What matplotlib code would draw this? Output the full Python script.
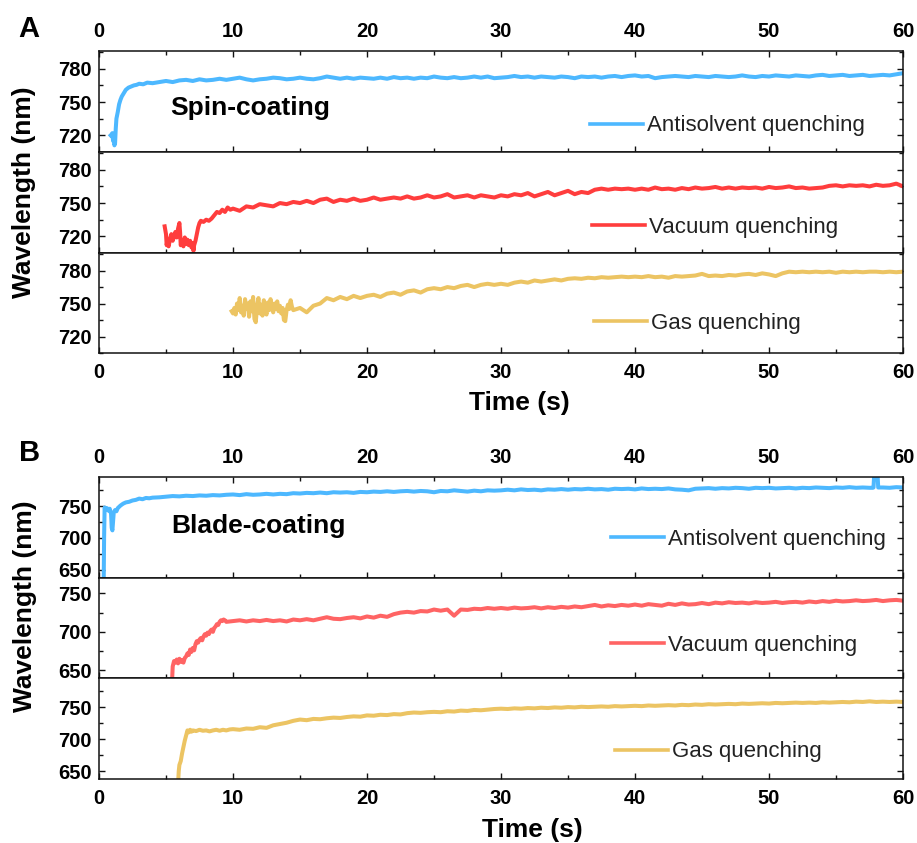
import numpy as np
import matplotlib
matplotlib.use("Agg")
import matplotlib.pyplot as plt
from matplotlib.ticker import MultipleLocator

plt.rcParams["font.family"] = ["Liberation Sans", "DejaVu Sans"]

# ---------------- Spin-coating (panel A) ----------------
spin_anti_t_early = [0.87, 0.95, 1.0, 1.05, 1.1, 1.15, 1.2, 1.25, 1.3, 1.4, 1.5, 1.6, 1.7,
                     1.8, 2.0, 2.2, 2.4, 2.6, 2.8, 3.0, 3.3, 3.6, 4.0, 4.5]
spin_anti_v_early = [720, 719, 722, 715, 718, 711, 713, 726, 735, 741, 748, 752, 755,
                     757, 761, 763, 764, 765, 765.5, 766.5, 766, 767.5, 767, 768]
spin_anti_v_tail = [  # 5.0 s ... 60.0 s, 0.5 s step
    769, 768, 769.5, 770, 769, 770.5, 769.5, 770, 771, 770, 771, 772, 770.5, 769.5, 770.5,
    771, 772, 771.5, 770.5, 771, 772, 771, 770.5, 771.5, 773, 772, 771, 772, 771, 772,
    771.5, 771, 772, 771, 772.5, 771.5, 772, 771, 772, 771.5, 773, 772, 771.5, 772.5, 771.5,
    772, 773, 772, 773, 771.5, 772, 772.5, 773.5, 772.5, 773, 772, 773, 772.5, 772, 773,
    772.5, 771.5, 773, 772.5, 773, 772, 773, 773.5, 772.5, 773.5, 774, 773, 773.5, 771.5, 772.5,
    773, 773.5, 773, 772.5, 773.5, 773, 772.5, 773.5, 773, 772.5, 773, 774, 773, 772.5, 773.5,
    773, 774, 773.5, 773, 774, 773.5, 773, 774, 774.5, 773.5, 774, 774.5, 773.5, 774, 774.5,
    773.5, 774, 774.5, 774, 775, 776]

spin_vac_t_early = [4.9, 5.0, 5.05, 5.1, 5.2, 5.3, 5.4, 5.5, 5.6, 5.7, 5.8, 5.9, 6.0, 6.05,
                    6.1, 6.2, 6.3, 6.4, 6.5, 6.6, 6.7, 6.8, 6.9, 7.0, 7.05, 7.1, 7.2, 7.3,
                    7.4, 7.5, 7.6, 7.8, 8.0, 8.2, 8.4, 8.6, 8.8, 9.0, 9.2, 9.4, 9.6, 9.8]
spin_vac_v_early = [729, 722, 712, 716, 711, 718, 722, 716, 720, 724, 719, 727, 732, 724,
                    712, 716, 711, 719, 713, 717, 712, 716, 710, 714, 707, 712, 716, 722,
                    728, 732, 734, 733, 735, 734, 736, 739, 742, 741, 744, 742, 746, 744]
spin_vac_v_tail = [  # 10.0 s ... 60.0 s, 0.5 s step
    745, 743, 747, 746, 749, 748, 747, 750, 749, 751, 750, 752, 750, 753, 754, 751, 753, 752,
    754, 752, 753, 755, 753, 754, 755, 754, 756, 754, 755, 757, 755, 756, 758, 755, 756, 757,
    755, 757, 756, 755, 757, 756, 758, 757, 759, 756, 758, 760, 757, 759, 761, 758, 760, 759,
    762, 763, 762, 763, 762.5, 763, 762, 763, 762, 764, 762.5, 763, 762, 763.5, 762.5, 764,
    763, 763.5, 764.5, 763, 764, 763, 764, 763.5, 764, 763, 764.5, 763.5, 764, 765, 763.5,
    764, 763, 763.5, 764, 765.5, 766, 765, 766, 765.5, 766, 765, 766.5, 765.5, 766, 767.5, 765]

spin_gas_v_early = [  # 9.9 s ... 14.5 s, 0.1 s step
    743, 741, 746, 740, 750, 744, 755, 742, 748, 739, 754, 745, 750, 738, 752, 743, 756,
    736, 733, 748, 755, 741, 749, 739, 753, 745, 740, 751, 744, 754, 747, 742, 750, 745,
    752, 743, 748, 741, 746, 735, 734, 744, 749, 745, 753, 747, 744]
spin_gas_v_tail = [  # 15.0 s ... 60.0 s, 0.5 s step
    746, 742, 748, 750, 755, 753, 756, 754, 757, 755, 757, 758, 756, 759, 760, 758, 761, 762,
    760, 763, 764, 763, 765, 764, 766, 767, 765, 767, 768, 767, 768, 767, 769, 770, 769, 771,
    770, 771, 772, 771, 772.5, 773, 772.5, 773.5, 773, 774, 773.5, 774, 774.5, 774, 774.5,
    774, 775, 774, 774.5, 773.5, 775, 774.5, 775, 775.5, 777, 775, 775.5, 775, 776, 775.5,
    776.5, 777, 776, 777.5, 776.5, 775, 777.5, 779, 778.5, 779, 778.5, 779, 778.5, 779, 778,
    779, 778.5, 779, 778.5, 779, 779, 778.5, 779, 778.5, 779]

# ---------------- Blade-coating (panel B) ----------------
blade_anti_t_early = [0.35, 0.38, 0.42, 0.5, 0.6, 0.7, 0.8, 0.9, 0.95, 1.0, 1.05, 1.1, 1.2,
                      1.3, 1.4, 1.6, 1.8, 2.0, 2.25, 2.5, 2.75, 3.0, 3.25, 3.5, 3.75, 4.0, 4.5]
blade_anti_v_early = [630, 700, 748, 744, 747, 743, 746, 738, 716, 712, 725, 740, 744,
                      742, 747, 751, 754, 756, 757, 759, 760, 762, 761, 763, 762.5, 763.5, 764]
blade_anti_v_tail = [  # 5.0 s ... 57.5 s, 0.5 s step
    765, 766, 765.5, 766.5, 766, 767, 766.5, 767.5, 767, 768, 768.5, 767.5, 769, 768, 768.5,
    769.5, 768.5, 769.5, 769, 770.5, 770, 771, 770.5, 771.5, 770.5, 772, 771.5, 772, 771,
    772.5, 772, 773, 772.5, 773.5, 772.5, 773.5, 774, 773, 774, 773.5, 772, 774, 773.5, 775,
    774, 773, 774.5, 773.5, 775, 774.5, 775, 776, 775, 776.5, 775.5, 776, 775, 776.5, 776,
    777, 776, 777, 776.5, 777.5, 776.5, 777, 776, 777.5, 777, 777.5, 776.5, 778, 777, 777.5,
    777, 778, 776.5, 776, 775, 777.5, 778, 778.5, 777.5, 778.5, 778, 779, 778.5, 777.5,
    779, 778.5, 779, 778, 778.5, 779, 778, 779, 778.5, 779.5, 779, 778.5, 779.5, 779, 780,
    779, 779.5, 779]
blade_anti_t_end = [57.75, 57.8, 57.85, 58.1, 58.15, 58.5, 59.0, 59.5, 60.0]
blade_anti_v_end = [779, 779.5, 800, 800, 779.5, 779.5, 779, 780, 779.5]

blade_vac_t_early = [5.45, 5.5, 5.6, 5.7, 5.8, 5.9, 6.0, 6.1, 6.2, 6.3, 6.4, 6.5, 6.6, 6.7,
                     6.8, 6.9, 7.0, 7.1, 7.2, 7.3, 7.4, 7.5, 7.6, 7.7, 7.8, 7.9, 8.0, 8.1,
                     8.2, 8.3, 8.4, 8.5, 8.6, 8.7, 8.8, 8.9, 9.0, 9.1, 9.2, 9.3, 9.4, 9.5]
blade_vac_v_early = [635, 655, 662, 660, 664, 659, 665, 661, 663, 660, 666, 668, 672, 670,
                     677, 674, 679, 676, 684, 688, 686, 690, 692, 689, 694, 697, 695, 699,
                     697, 701, 703, 700, 705, 707, 710, 709, 713, 715, 714, 716, 715, 713]
blade_vac_v_tail = [  # 10.0 s ... 60.0 s, 0.5 s step
    714, 715, 713.5, 715, 714, 715.5, 714, 715, 713.5, 716, 715, 716.5, 715, 717, 719, 717,
    716.5, 718, 719, 717.5, 720, 718.5, 721, 719.5, 723, 725, 726, 725, 727, 726.5, 729,
    727.5, 729, 721, 729, 728.5, 730, 729.5, 731, 730, 731, 730, 731.5, 730.5, 731, 732,
    730.5, 732, 731, 732.5, 731.5, 733, 732, 733.5, 735, 733, 734.5, 733.5, 735, 734, 735.5,
    734, 736, 735, 734, 736.5, 735, 737, 735.5, 736, 737.5, 736, 738, 737, 738.5, 737.5, 738,
    737, 738.5, 737.5, 738, 739, 737.5, 738.5, 739, 738, 739.5, 738.5, 740, 739, 740.5,
    739.5, 740, 741, 740, 740.5, 741.5, 740, 741, 741.5, 740.5]

blade_gas_t_early = [5.9, 5.95, 6.0, 6.1, 6.2, 6.3, 6.4, 6.5, 6.6, 6.7, 6.8, 6.9, 7.0,
                     7.25, 7.5, 7.75, 8.0, 8.25, 8.5, 8.75, 9.0, 9.25, 9.5, 9.75]
blade_gas_v_early = [630, 650, 660, 666, 678, 688, 698, 706, 714, 711, 715, 712, 714,
                     713, 715, 713.5, 714, 712.5, 714, 715, 713.5, 715, 714, 715.5]
blade_gas_v_tail = [  # 10.0 s ... 60.0 s, 0.5 s step
    716, 715, 717, 716.5, 719, 718, 722, 724, 726, 729, 731, 730, 732, 731.5, 733, 734,
    733.5, 735, 736, 735.5, 737.5, 737, 738.5, 738, 739.5, 739, 741, 742, 741.5, 742.5, 743,
    742.5, 744, 743.5, 745, 744.5, 746, 745.5, 746.5, 747.5, 748, 747.5, 748.5, 748, 749,
    748.5, 749.5, 749, 750, 749.5, 750.5, 750, 751, 750.5, 751, 751.5, 751, 752, 751.5, 752,
    752.5, 752, 753, 752.5, 753, 753.5, 753, 754, 753.5, 754.5, 754, 755, 754.5, 755, 755.5,
    755, 756, 755.5, 756, 756.5, 756, 757, 756.5, 757, 757.5, 757, 757.5, 757, 758, 757.5,
    758, 758.5, 758, 759, 758.5, 759.5, 758.5, 759, 758.5, 759, 758.5]

labels = ["Antisolvent quenching", "Vacuum quenching", "Gas quenching"]
BLUE = "#4db8ff"
RED_A = "#ff3d3d"
RED_B = "#ff6464"
GOLD = "#ecc463"


def join(t_parts, v_parts):
    return np.concatenate(t_parts), np.concatenate(v_parts)


def tail(t0, t1, vals):
    return np.linspace(t0, t1, len(vals))


spin_series = [
    join([spin_anti_t_early, tail(5.0, 60.0, spin_anti_v_tail)],
         [spin_anti_v_early, spin_anti_v_tail]),
    join([spin_vac_t_early, tail(10.0, 60.0, spin_vac_v_tail)],
         [spin_vac_v_early, spin_vac_v_tail]),
    join([tail(9.9, 14.5, spin_gas_v_early), tail(15.0, 60.0, spin_gas_v_tail)],
         [spin_gas_v_early, spin_gas_v_tail]),
]
blade_series = [
    join([blade_anti_t_early, tail(5.0, 57.5, blade_anti_v_tail), blade_anti_t_end],
         [blade_anti_v_early, blade_anti_v_tail, blade_anti_v_end]),
    join([blade_vac_t_early, tail(10.0, 60.0, blade_vac_v_tail)],
         [blade_vac_v_early, blade_vac_v_tail]),
    join([blade_gas_t_early, tail(10.0, 60.0, blade_gas_v_tail)],
         [blade_gas_v_early, blade_gas_v_tail]),
]

W, H = 917, 843
fig = plt.figure(figsize=(W / 100, H / 100), dpi=100)

LEFT, RIGHT = 99, 903
LEG_SIZE = 16


def make_axes(top_px, bot_px):
    return fig.add_axes([LEFT / W, 1 - bot_px / H, (RIGHT - LEFT) / W, (bot_px - top_px) / H])


def style(ax, ylim, major, minor, first, last):
    ax.set_xlim(0, 60)
    ax.set_ylim(*ylim)
    ax.xaxis.set_major_locator(MultipleLocator(10))
    ax.xaxis.set_minor_locator(MultipleLocator(5))
    ax.yaxis.set_major_locator(MultipleLocator(major))
    ax.yaxis.set_minor_locator(MultipleLocator(minor))
    for s in ax.spines.values():
        s.set_linewidth(1.1)
        s.set_color("#111111")
    ax.tick_params(which="both", direction="in", color="#111111", width=1.0,
                   top=first, bottom=True, right=True, left=True,
                   labeltop=first, labelbottom=last, labelleft=True)
    ax.tick_params(which="major", length=4.5)
    ax.tick_params(which="minor", length=2.8)
    ax.tick_params(axis="x", pad=7, labelsize=14.5)
    ax.tick_params(axis="y", pad=5, labelsize=14.5)
    for lab in ax.get_xticklabels() + ax.get_yticklabels():
        lab.set_fontweight("bold")


def add_legend(ax, label, color, x_px, y_px, top_px, bot_px):
    fx = (x_px - LEFT) / (RIGHT - LEFT)
    fy = (bot_px - y_px) / (bot_px - top_px)
    em = LEG_SIZE * 100 / 72
    h = plt.Line2D([], [], color=color, lw=2.6)
    leg = ax.legend([h], [label], loc="center left", bbox_to_anchor=(fx, fy),
                    frameon=False, fontsize=LEG_SIZE, handlelength=53 / em,
                    handletextpad=4 / em, borderpad=0, borderaxespad=0)
    for txt in leg.get_texts():
        txt.set_color("#222222")


# Panel A
a_rows = [(51, 152), (152, 253), (253, 353)]
a_colors = [BLUE, RED_A, GOLD]
a_leg = [(590, 126), (592, 227), (594, 323)]
for i, ((top, bot), (t, v)) in enumerate(zip(a_rows, spin_series)):
    ax = make_axes(top, bot)
    ax.plot(t, v, color=a_colors[i], lw=2.9, solid_joinstyle="round")
    style(ax, (705, 796), 30, 15, i == 0, i == 2)
    add_legend(ax, labels[i], a_colors[i], a_leg[i][0], a_leg[i][1], top, bot)
    if i == 0:
        ax.text((170 - LEFT) / (RIGHT - LEFT), (bot - 108) / (bot - top), "Spin-coating",
                transform=ax.transAxes, fontsize=19, fontweight="bold",
                ha="left", va="center")

# Panel B
b_rows = [(477, 578), (578, 678), (678, 779)]
b_colors = [BLUE, RED_B, GOLD]
b_ylims = [(637, 796), (640, 770), (638, 796)]
b_leg = [(611, 539), (611, 645), (615, 752)]
for i, ((top, bot), (t, v)) in enumerate(zip(b_rows, blade_series)):
    ax = make_axes(top, bot)
    ax.plot(t, v, color=b_colors[i], lw=2.9, solid_joinstyle="round")
    style(ax, b_ylims[i], 50, 25, i == 0, i == 2)
    add_legend(ax, labels[i], b_colors[i], b_leg[i][0], b_leg[i][1], top, bot)
    if i == 0:
        ax.text((171 - LEFT) / (RIGHT - LEFT), (bot - 526) / (bot - top), "Blade-coating",
                transform=ax.transAxes, fontsize=19, fontweight="bold",
                ha="left", va="center")

# Shared labels and panel letters
fig.text(24 / W, 1 - 192 / H, "Wavelength (nm)", rotation=90, ha="center", va="center",
         fontsize=19, fontweight="bold")
fig.text(25 / W, 1 - 606 / H, "Wavelength (nm)", rotation=90, ha="center", va="center",
         fontsize=19, fontweight="bold")
fig.text(519 / W, 1 - 403 / H, "Time (s)", ha="center", va="center",
         fontsize=19, fontweight="bold")
fig.text(532 / W, 1 - 830 / H, "Time (s)", ha="center", va="center",
         fontsize=19, fontweight="bold")
fig.text(29 / W, 1 - 29 / H, "A", ha="center", va="center", fontsize=21, fontweight="bold")
fig.text(30 / W, 1 - 453 / H, "B", ha="center", va="center", fontsize=21, fontweight="bold")

fig.savefig("out.png", dpi=100)
